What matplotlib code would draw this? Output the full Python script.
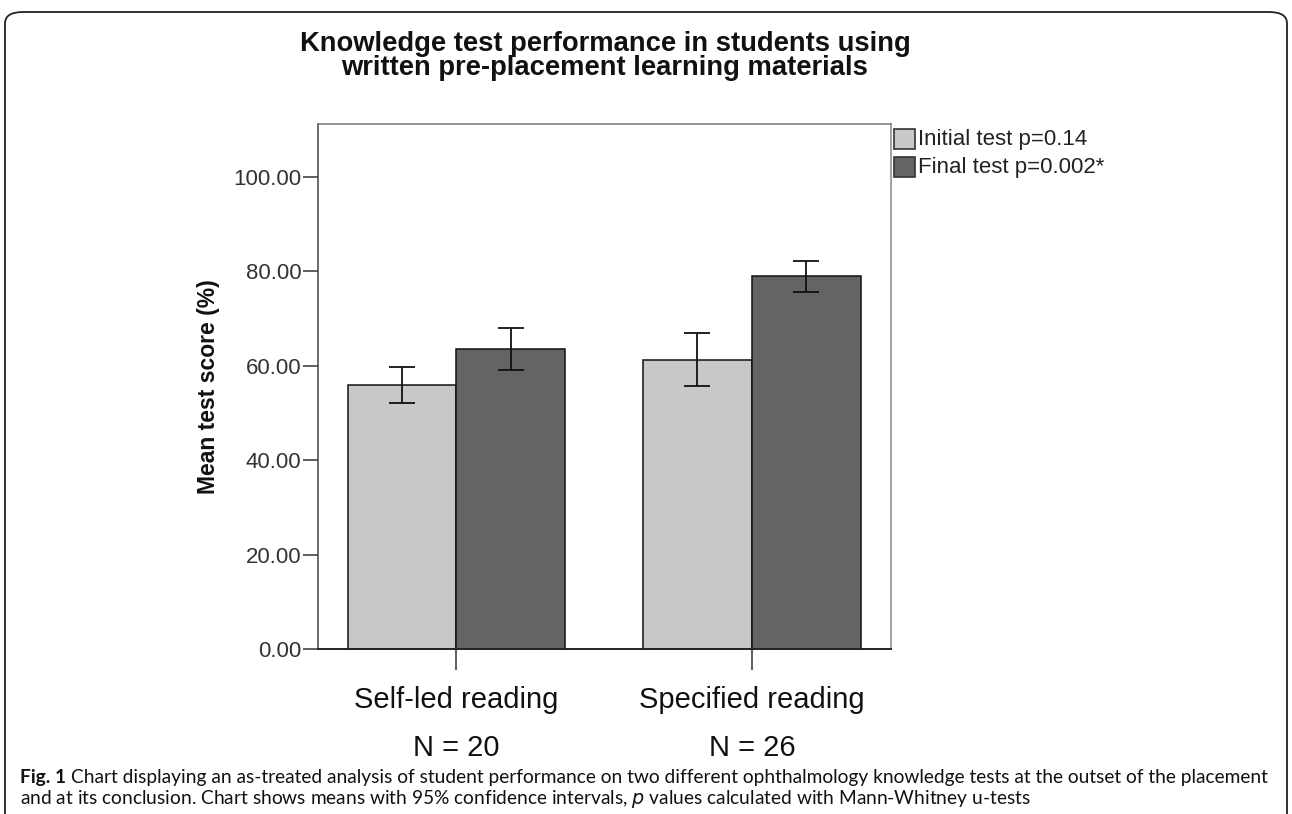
import matplotlib
matplotlib.use("Agg")
import matplotlib.pyplot as plt
from matplotlib.patches import FancyBboxPatch, Rectangle
import numpy as np

categories = ["Self-led reading", "Specified reading"]
n_labels = ["N = 20", "N = 26"]
series_names = ["Initial test p=0.14", "Final test p=0.002*"]
initial_mean = [55.9, 61.3]
initial_lo = [52.1, 55.6]
initial_hi = [59.8, 66.9]
final_mean = [63.6, 78.9]
final_lo = [59.2, 75.6]
final_hi = [68.0, 82.2]
yticks = [0, 20, 40, 60, 80, 100]
colors = ["#c8c8c8", "#646464"]

W, H = 1292, 814
fig = plt.figure(figsize=(W / 100, H / 100), dpi=100)
font = "Liberation Sans"

# rounded border (bottom edge runs off the image)
border = FancyBboxPatch((5 / W, -30 / H), (W - 10) / W, (H - 12 + 30) / H,
                        boxstyle="round,pad=0,rounding_size=0.014",
                        transform=fig.transFigure, fill=False, ec="#222222", lw=1.3)
fig.patches.append(border)

L, R, T, B = 318, 891, 124, 649
ax = fig.add_axes([L / W, 1 - B / H, (R - L) / W, (B - T) / H])
x = np.arange(len(categories))
bw = 0.368
means = [initial_mean, final_mean]
los = [initial_lo, final_lo]
his = [initial_hi, final_hi]
for i in range(2):
    xs = x + (i - 0.5) * bw
    ax.bar(xs, means[i], width=bw, color=colors[i], edgecolor="#111111", linewidth=1.1, zorder=2)
    m = np.array(means[i]); lo = np.array(los[i]); hi = np.array(his[i])
    ax.errorbar(xs, m, yerr=[m - lo, hi - m], fmt="none", ecolor="#111111",
                elinewidth=1.3, capsize=9.7, capthick=1.3, zorder=3)

ax.set_xlim(-0.468, 1.471)
ax.set_ylim(0, 111.2)
ax.set_yticks(yticks)
ax.set_yticklabels([f"{v:.2f}" for v in yticks], fontfamily=font, fontsize=16, color="#333333")
ax.set_xticks(x)
ax.set_xticklabels(categories, fontfamily=font, fontsize=21, color="#111111")
ax.tick_params(axis="x", length=15, width=1.1, color="#333333", pad=12)
ax.tick_params(axis="y", length=11, width=1.1, color="#333333", pad=1)
for s in ax.spines.values():
    s.set_color("#444444")
    s.set_linewidth(1.1)
ax.spines["bottom"].set_color("#222222")
ax.spines["bottom"].set_linewidth(1.4)
ax.spines["right"].set_color("#888888")
ax.spines["top"].set_color("#777777")
for xi, nl in zip(x, n_labels):
    ax.annotate(nl, xy=(xi, 0), xycoords="data", xytext=(0, -(748 - B) / 100 * 72),
                textcoords="offset points", ha="center", va="center",
                fontfamily=font, fontsize=21, color="#111111", annotation_clip=False)
ax.yaxis.set_label_coords(-(L - 208) / (R - L), (B - 392) / (B - T))
ax.set_ylabel("Mean test score (%)", fontfamily=font, fontsize=16.5, fontweight="bold",
              color="#111111", va="center")

fig.text(605 / W, 1 - 56 / H, "Knowledge test performance in students using\nwritten pre-placement learning materials",
         ha="center", va="center", fontfamily=font, fontweight="bold", fontsize=19.7,
         linespacing=0.86, color="#111111")

# legend
for i, (name, c) in enumerate(zip(series_names, colors)):
    yc = 139 + i * 28
    fig.patches.append(Rectangle((894 / W, 1 - (yc + 10) / H), 21 / W, 20 / H,
                                 transform=fig.transFigure, fc=c, ec="#333333", lw=1.2))
    fig.text(918 / W, 1 - yc / H, name, ha="left", va="center", fontfamily=font,
             fontsize=16, color="#222222")

# caption
capfont = "Lato"
capsize = 13.75
f1 = fig.text(20 / W, 1 - 777 / H, "Fig. 1", ha="left", va="center", fontsize=capsize,
              fontfamily=capfont, fontweight="bold", color="#111111")
fig.canvas.draw()
bb = f1.get_window_extent()
fig.text((bb.x1 + 5) / W, 1 - 777 / H,
         "Chart displaying an as-treated analysis of student performance on two different ophthalmology knowledge tests at the outset of the placement",
         ha="left", va="center", fontfamily=capfont, fontsize=capsize, color="#111111")
fig.text(20 / W, 1 - 799 / H,
         "and at its conclusion. Chart shows means with 95% confidence intervals, $\\it{p}$ values calculated with Mann-Whitney u-tests",
         ha="left", va="center", fontfamily=capfont, fontsize=capsize, color="#111111")

fig.savefig("out.png", dpi=100)
